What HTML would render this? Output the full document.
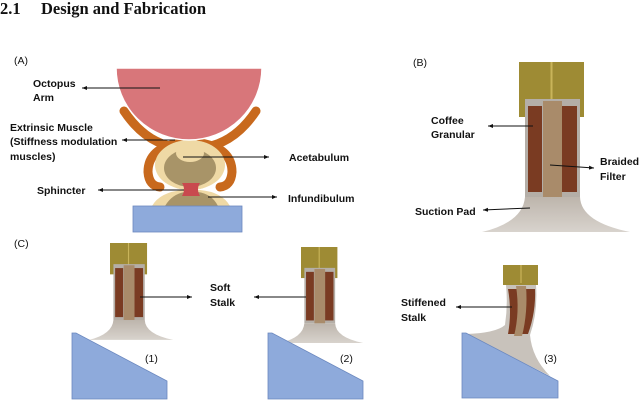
<!DOCTYPE html>
<html><head><meta charset="utf-8"><style>
html,body{margin:0;padding:0;background:#fff;}
svg{display:block;}
.t{font-family:"Liberation Sans",Arial,sans-serif;font-size:10.5px;font-weight:bold;fill:#111;}
.l{font-family:"Liberation Sans",Arial,sans-serif;font-size:10.5px;fill:#111;}
</style></head><body>
<svg width="640" height="401" viewBox="0 0 640 401" xmlns="http://www.w3.org/2000/svg">
<defs>
<marker id="a" markerWidth="6" markerHeight="6" refX="5" refY="3" orient="auto" markerUnits="userSpaceOnUse">
<path d="M0,1 L5,3 L0,5 z" fill="#111"/></marker>
<linearGradient id="flare" x1="0" y1="0" x2="0" y2="1"><stop offset="0" stop-color="#bdb5ac"/><stop offset="1" stop-color="#d8d3cd"/></linearGradient>
<g id="robot">
<rect x="0" y="0" width="65" height="55" fill="#9e8b34"/>
<line x1="32.5" y1="0" x2="32.5" y2="40" stroke="#c9b45a" stroke-width="2"/>
<path d="M6,37 L61,37 L61,135 L6,135 Z" fill="#b4aea7"/>
<path d="M6,135 Q4,160 -37,170 L111,170 Q62,160 61,135 Z" fill="url(#flare)"/>
<rect x="9" y="44" width="14" height="86" fill="#7a3b22"/>
<rect x="43" y="44" width="15" height="86" fill="#7a3b22"/>
<rect x="24" y="39" width="19" height="96" fill="#a98b6a"/>
</g>
</defs>

<text x="0" y="14" style="font-family:'Liberation Serif',serif;font-size:16.5px;font-weight:bold;fill:#111">2.1</text>
<text x="41" y="14" style="font-family:'Liberation Serif',serif;font-size:16.5px;font-weight:bold;fill:#111">Design and Fabrication</text>

<!-- Panel A -->
<text class="l" x="14" y="64">(A)</text>
<path d="M124,111 Q150,150 190,148 Q230,150 256,111" fill="none" stroke="#c8691d" stroke-width="9" stroke-linecap="round"/>
<path d="M180,143 Q148,148 148,172 Q149,186 160,187" fill="none" stroke="#c8691d" stroke-width="9" stroke-linecap="round"/>
<path d="M200,143 Q232,148 232,172 Q231,186 220,187" fill="none" stroke="#c8691d" stroke-width="9" stroke-linecap="round"/>
<ellipse cx="190" cy="165" rx="35" ry="25" fill="#efd9a5"/>
<ellipse cx="190" cy="168" rx="26" ry="19" fill="#a89468"/>
<ellipse cx="190" cy="153" rx="14" ry="9" fill="#efd9a5"/>
<path d="M152,206 Q160,192 183,190 L200,190 Q222,192 230,206 Z" fill="#efd9a5"/>
<path d="M165,206 Q172,194 185,192 L198,192 Q212,194 218,206 Z" fill="#a89468"/>
<path d="M182,183 L200,183 Q196,189 200,196 L182,196 Q186,189 182,183 Z" fill="#c9494e"/>
<path d="M116,68 L262,68 A73,72 0 0 1 116,68 Z" fill="#d8767a" stroke="#fff" stroke-width="1.5"/>
<rect x="133" y="206" width="109" height="26" fill="#8eaadb" stroke="#6b88bf" stroke-width="0.8"/>
<text class="t" x="33" y="87">Octopus</text>
<text class="t" x="33" y="101">Arm</text>
<line x1="160" y1="88" x2="82" y2="88" stroke="#111" stroke-width="1" marker-end="url(#a)"/>
<text class="t" x="10" y="131">Extrinsic Muscle</text>
<text class="t" x="10" y="145">(Stiffness modulation</text>
<text class="t" x="10" y="160">muscles)</text>
<line x1="175" y1="140" x2="122" y2="140" stroke="#111" stroke-width="1" marker-end="url(#a)"/>
<text class="t" x="289" y="161">Acetabulum</text>
<line x1="183" y1="157" x2="269" y2="157" stroke="#111" stroke-width="1" marker-end="url(#a)"/>
<text class="t" x="37" y="194">Sphincter</text>
<line x1="184" y1="190" x2="98" y2="190" stroke="#111" stroke-width="1" marker-end="url(#a)"/>
<text class="t" x="288" y="202">Infundibulum</text>
<line x1="208" y1="197" x2="277" y2="197" stroke="#111" stroke-width="1" marker-end="url(#a)"/>

<!-- Panel B -->
<text class="l" x="413" y="66">(B)</text>
<use href="#robot" x="519" y="62"/>
<text class="t" x="431" y="124">Coffee</text>
<text class="t" x="431" y="138">Granular</text>
<line x1="533" y1="126" x2="488" y2="126" stroke="#111" stroke-width="1" marker-end="url(#a)"/>
<text class="t" x="600" y="165">Braided</text>
<text class="t" x="600" y="180">Filter</text>
<line x1="550" y1="165" x2="594" y2="168" stroke="#111" stroke-width="1" marker-end="url(#a)"/>
<text class="t" x="415" y="215">Suction Pad</text>
<line x1="530" y1="208" x2="483" y2="210" stroke="#111" stroke-width="1" marker-end="url(#a)"/>

<!-- Panel C -->
<text class="l" x="14" y="247">(C)</text>
<use href="#robot" transform="translate(110,243) scale(0.57,0.57)"/>
<path d="M72,333 L76,333 L167,381 L167,399 L72,399 Z" fill="#8eaadb" stroke="#6b88bf" stroke-width="0.8"/>
<text class="l" x="145" y="362">(1)</text>
<line x1="140" y1="297" x2="192" y2="297" stroke="#111" stroke-width="1" marker-end="url(#a)"/>
<text class="t" x="210" y="291">Soft</text>
<text class="t" x="210" y="306">Stalk</text>
<use href="#robot" transform="translate(301,247) scale(0.56,0.565)"/>
<path d="M268,333 L272,333 L363,381 L363,399 L268,399 Z" fill="#8eaadb" stroke="#6b88bf" stroke-width="0.8"/>
<text class="l" x="340" y="362">(2)</text>
<line x1="306" y1="297" x2="254" y2="297" stroke="#111" stroke-width="1" marker-end="url(#a)"/>
<!-- robot 3 -->
<rect x="503" y="265" width="35" height="20" fill="#9e8b34"/>
<line x1="521" y1="265" x2="521" y2="283" stroke="#c9b45a" stroke-width="1.2"/>
<path d="M506,285 L536,285 Q538,312 530,335 Q532,358 550,376 L466,334 Q496,333 505,325 Q508,305 506,285 Z" fill="#c8c2bb"/>
<path d="M508,289 L519,289 Q520,312 516,334 L508,334 Q512,312 508,289 Z" fill="#7a3b22"/>
<path d="M524,289 L535,289 Q536,312 528,334 L520,334 Q526,312 524,289 Z" fill="#7a3b22"/>
<path d="M516,286 L526,286 Q528,312 522,336 L514,336 Q520,312 516,286 Z" fill="#a98b6a"/>
<path d="M462,333 L466,333 L558,381 L558,398 L462,398 Z" fill="#8eaadb" stroke="#6b88bf" stroke-width="0.8"/>
<text class="l" x="544" y="362">(3)</text>
<text class="t" x="401" y="306">Stiffened</text>
<text class="t" x="401" y="321">Stalk</text>
<line x1="512" y1="307" x2="456" y2="307" stroke="#111" stroke-width="1" marker-end="url(#a)"/>
</svg>
</body></html>
